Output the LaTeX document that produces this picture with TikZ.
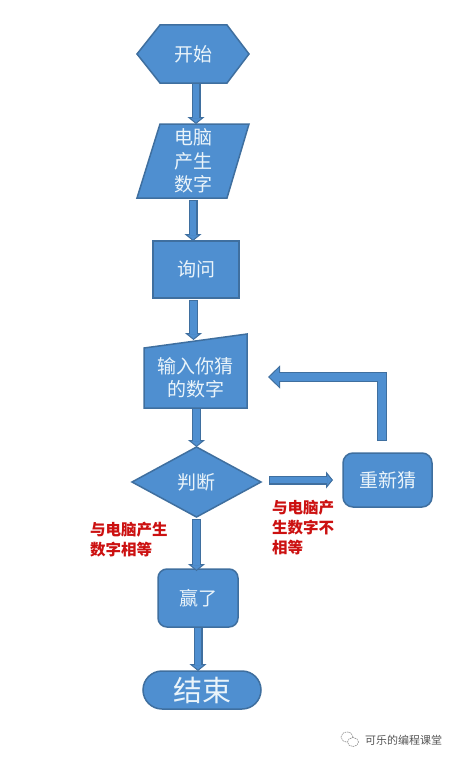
\documentclass[tikz,border=0pt]{standalone}
\usepackage{fontspec}
\setmainfont{Noto Sans CJK SC}
\usetikzlibrary{arrows.meta,backgrounds,calc}
\definecolor{boxfill}{HTML}{4F8FD0}
\definecolor{boxedge}{HTML}{3F6F9F}
\definecolor{boxtext}{HTML}{EAF4FA}
\definecolor{redtext}{HTML}{CC1111}
\definecolor{marktext}{HTML}{555555}
\tikzset{
  x=1pt,y=-1pt,
  frame/.style={inner sep=0pt,outer sep=0pt,text=boxtext,align=center,font=\fontsize{19}{23.5}\selectfont},
  solid box/.style={frame,draw=boxedge,fill=boxfill,line width=1.5pt},
  outline/.style={draw=boxedge,fill=boxfill,line width=1.5pt,line join=miter},
  flow/.style={draw=boxedge,line width=9pt,
    -{Triangle[length=7pt,width=17pt,line width=1pt,fill=boxfill]},
    postaction={draw=boxfill,line width=6.5pt,-,shorten >=6.5pt,shorten <=1pt}},
  big flow/.style={draw=boxedge,line width=10.5pt,line join=miter,
    -{Triangle[length=12pt,width=23pt,line width=1pt,fill=boxfill]},
    postaction={draw=boxfill,line width=8pt,-,shorten >=11pt,shorten <=1pt}},
  note/.style={inner sep=0pt,text=redtext,align=left,font=\fontsize{15.5}{20}\selectfont\bfseries},
}
\begin{document}
\begin{tikzpicture}
\useasboundingbox (0,0) rectangle (456,760);
\node[frame,minimum width=112pt,minimum height=58pt] (start) at (193,54) {开始};
\node[frame,minimum width=112pt,minimum height=74pt] (gen) at (193,161) {电脑\\产生\\数字};
\node[solid box,minimum width=86pt,minimum height=57pt] (ask) at (196,269.5) {询问};
\node[frame,minimum width=103pt,minimum height=60pt] (input) at (195.5,378) {输入你猜\\的数字};
\node[frame,minimum width=129pt,minimum height=70pt] (judge) at (196.5,482) {判断};
\node[solid box,rounded corners=10pt,minimum width=89pt,minimum height=54pt] (retry) at (387.5,480) {重新猜};
\node[solid box,rounded corners=9pt,minimum width=80pt,minimum height=58pt] (win) at (198,598) {赢了};
\node[solid box,rounded corners=19pt,minimum width=118pt,minimum height=38pt,font=\fontsize{29}{32}\selectfont] (stop) at (202,690) {结束};
\begin{pgfonlayer}{background}
\fill[white] (0,0) rectangle (456,760);
\draw[outline] (start.west) -- ($(start.north west)+(23,0)$) -- ($(start.north east)+(-22,0)$) -- (start.east) -- ($(start.south east)+(-22,0)$) -- ($(start.south west)+(23,0)$) -- cycle;
\draw[outline] ($(gen.north west)+(23,0)$) -- (gen.north east) -- ($(gen.south east)+(-22,0)$) -- (gen.south west) -- cycle;
\draw[outline] (input.north west) -- ($(input.north east)+(0,-14)$) -- (input.south east) -- (input.south west) -- cycle;
\draw[outline] (judge.west) -- (judge.north) -- (judge.east) -- (judge.south) -- cycle;
\end{pgfonlayer}
\draw[flow] ([xshift=3pt]start.south) -- ([xshift=3pt]gen.north);
\draw[flow] ([yshift=-2pt]gen.south) -- (gen.south |- ask.north);
\draw[flow] ([xshift=-2.5pt,yshift=-2pt]ask.south) -- ([xshift=-2pt,yshift=8pt]input.north);
\draw[flow] (input.south -| judge.north) -- (judge.north);
\draw[flow] ([xshift=8pt]judge.east |- retry.west) -- ([xshift=-10pt]retry.west);
\draw[big flow] ([xshift=-5.5pt,yshift=12pt]retry.north) |- ([xshift=21pt,yshift=1pt]input.east);
\draw[flow] ([yshift=-2pt]judge.south) -- ([yshift=-2pt]judge.south |- win.north);
\draw[flow] (win.south) -- (win.south |- stop.north);
\node[note,anchor=west] (left) at (90,540) {与电脑产生\\数字相等};
\node[note,anchor=west] (right) at (272,528) {与电脑产\\生数字不\\相等};
\node[inner sep=0pt,anchor=west,text=marktext,font=\fontsize{11}{13}\selectfont] (mark) at (365,740) {可乐的编程课堂};
\draw[marktext!70,line width=.6pt,dash pattern=on 1.5pt off .8pt] (347,737) ellipse [x radius=6pt,y radius=5pt];
\draw[marktext!70,line width=.6pt,dash pattern=on 1.5pt off .8pt,fill=white] (353,742) ellipse [x radius=5.5pt,y radius=4.5pt];
\end{tikzpicture}
\end{document}
